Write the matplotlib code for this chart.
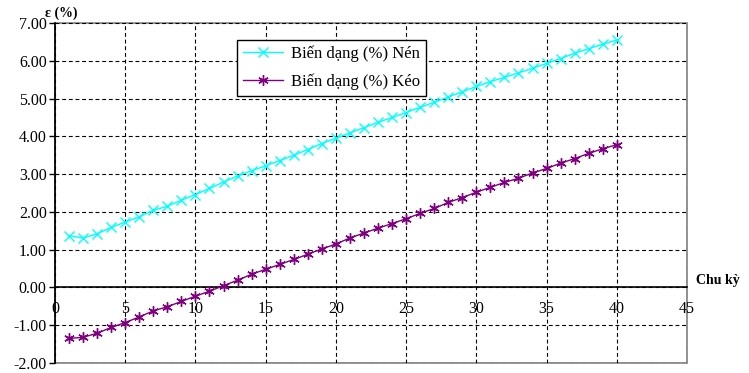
import matplotlib
matplotlib.use('Agg')
import matplotlib.pyplot as plt
from matplotlib.patches import Rectangle
from matplotlib.ticker import FormatStrFormatter, MultipleLocator
import matplotlib.transforms as mtransforms

plt.rcParams['font.family'] = ['Liberation Serif', 'DejaVu Serif']
plt.rcParams['axes.unicode_minus'] = False

# số chu kỳ và biến dạng đo được
chu_ky = list(range(1, 41))
bien_dang_nen = [1.37, 1.31, 1.42, 1.59, 1.73, 1.87, 2.04, 2.15, 2.31, 2.46,
                 2.62, 2.79, 2.95, 3.09, 3.22, 3.36, 3.50, 3.65, 3.81, 3.95,
                 4.09, 4.23, 4.37, 4.50, 4.63, 4.77, 4.90, 5.04, 5.18, 5.32,
                 5.45, 5.56, 5.68, 5.80, 5.93, 6.06, 6.20, 6.32, 6.44, 6.55]
bien_dang_keo = [-1.35, -1.32, -1.21, -1.06, -0.93, -0.78, -0.62, -0.51, -0.37, -0.23,
                 -0.10, 0.05, 0.19, 0.35, 0.48, 0.61, 0.74, 0.88, 1.02, 1.15,
                 1.31, 1.44, 1.57, 1.69, 1.82, 1.96, 2.09, 2.25, 2.38, 2.52,
                 2.65, 2.78, 2.89, 3.03, 3.15, 3.29, 3.41, 3.55, 3.67, 3.78]

fig = plt.figure(figsize=(7.49, 3.73), dpi=100)
ax = fig.add_axes([55 / 749, 10 / 373, 632 / 749, 340 / 373])

ax.plot(chu_ky, bien_dang_nen, color='#00FFFF', lw=1.0, marker='x',
        ms=6.5, mew=1.0, label='Biến dạng (%) Nén', zorder=3)
ax.plot(chu_ky, bien_dang_keo, color='#800080', lw=1.0, marker=(6, 2, 0),
        ms=7.5, mew=1.0, label='Biến dạng (%) Kéo', zorder=3)
ax.plot(chu_ky, bien_dang_keo, ls='none', color='#800080', marker='o', ms=2, zorder=4)

ax.set_xlim(0, 45)
ax.set_ylim(-2, 7)
ax.xaxis.set_major_locator(MultipleLocator(5))
ax.yaxis.set_major_locator(MultipleLocator(1))
ax.yaxis.set_major_formatter(FormatStrFormatter('%.2f'))

ax.grid(True, color='black', ls=(0, (3.5, 2.5)), lw=0.8)

# khung xám quanh vùng vẽ, trục x nằm tại y = 0
ax.spines['top'].set_visible(False)
ax.spines['right'].set_visible(False)
ax.spines['bottom'].set_position(('data', 0))
ax.spines['bottom'].set_color('black')
ax.spines['bottom'].set_linewidth(1.2)
ax.add_patch(Rectangle((0, 0), 1, 1, transform=ax.transAxes, fill=False,
                       edgecolor='#808080', lw=1.2, clip_on=False, zorder=1))
ax.spines['left'].set_color('black')
ax.spines['left'].set_linewidth(1.2)
ax.spines['left'].set_zorder(5)

ax.tick_params(axis='y', length=4, width=1, pad=2, labelsize=11.5)
ax.tick_params(axis='x', length=0, pad=10, labelsize=11.5)

ax.text(1.015, 0.0, 'Chu kỳ', transform=mtransforms.blended_transform_factory(ax.transAxes, ax.transData),
        fontsize=10, fontweight='bold', va='bottom', ha='left')
fig.text(45 / 749, 1 - 13 / 373, 'ε (%)', fontsize=10, fontweight='bold', va='center', ha='left')

leg = ax.legend(loc='upper left', bbox_to_anchor=(182 / 632, 1 - 17 / 340), frameon=True,
                fancybox=False, edgecolor='black', framealpha=1, fontsize=12,
                handlelength=2.4, handletextpad=0.5, labelspacing=0.65, borderpad=0.35,
                borderaxespad=0)
leg.get_frame().set_linewidth(1.0)

fig.savefig('out.png', dpi=100)
